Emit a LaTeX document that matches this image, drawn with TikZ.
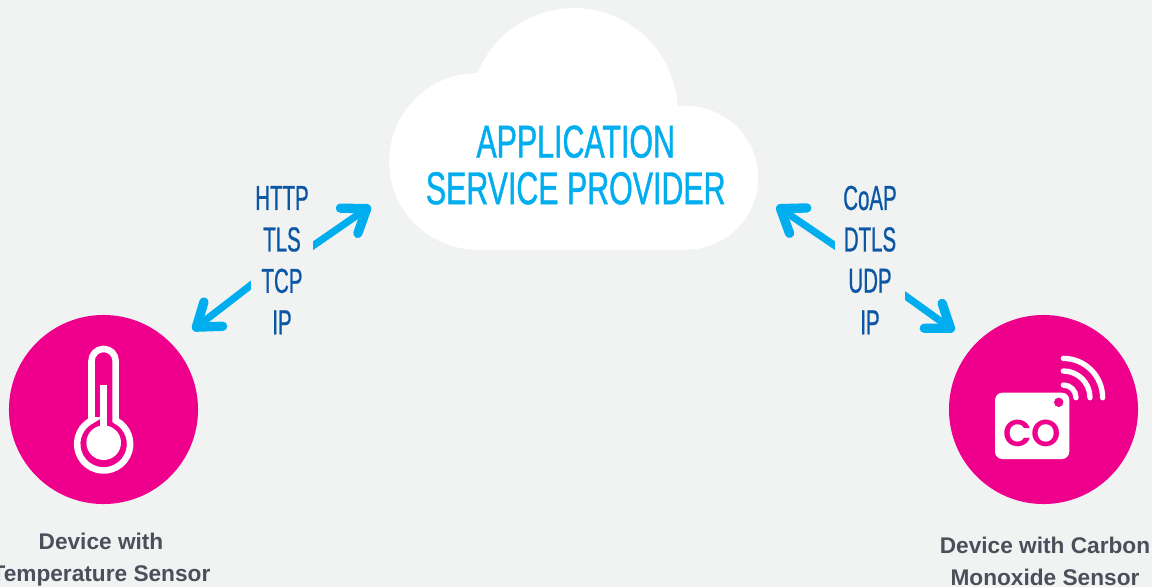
\documentclass[tikz,border=0pt]{standalone}
\usepackage{fontspec}
\setmainfont{Liberation Sans}
\newfontfamily\narrowfont[FakeStretch=0.59,FakeBold=0.7]{Liberation Sans}
\newfontfamily\cloudfont[FakeStretch=0.66,FakeBold=0.9]{Liberation Sans}
\newfontfamily\cofont[BoldFont={Poppins SemiBold}]{Poppins}
\usepackage{tikz}
\usetikzlibrary{arrows.meta,calc,positioning}
\definecolor{pagebg}{HTML}{F1F3F3}
\definecolor{devpink}{HTML}{EE008C}
\definecolor{linkblue}{HTML}{00AEEF}
\definecolor{stackblue}{HTML}{0B57A4}
\definecolor{devgray}{HTML}{4A4F5A}
\pgfdeclarelayer{behind}
\pgfsetlayers{behind,main}

\begin{document}
\begin{tikzpicture}[x=0.75pt,y=0.75pt,node distance=31.1pt,on grid]
\tikzset{device/.style={circle,fill=devpink,minimum size=141.8pt,inner sep=0pt}}
\tikzset{proto/.style={font=\narrowfont\fontsize{26}{26}\selectfont,text=stackblue,fill=pagebg,inner sep=0pt,minimum height=31.1pt}}
\tikzset{devlabel/.style={font=\bfseries\fontsize{17}{24}\selectfont,text=devgray,align=center}}
\tikzset{linkarrow/.style={draw=linkblue,line width=5.4pt,-{Straight Barb[length=16pt,width=23pt,line width=7pt,round]}}}
\tikzset{iconline/.style={draw=white,line width=4.9pt}}
\tikzset{waveline/.style={draw=white,line width=4pt,line cap=round}}
\useasboundingbox (0,0) rectangle (1152,587);
  % devices
  \node[device]          (thermo)   at (103.5,177.5) {};
  \node[device]          (cosensor) at (1043.5,177.5) {};
  \node[devlabel]        (thermolabel) at (101,27) {Device with\\Temperature Sensor};
  \node[devlabel]        (cosensorlabel) at (1045,26) {Device with Carbon\\Monoxide Sensor};

  % left stack
  \node[proto]                       (http)  at (282,389) {HTTP};
  \node[proto,minimum width=45.8pt]  (tls)   [below =of http]  {TLS};
  \node[proto,minimum width=45.8pt]  (tcp)   [below =of tls]   {TCP};
  \node[proto]                       (ipa)   [below =of tcp]   {IP};

  % right stack
  \node[proto]                       (coap)  at (870,389) {CoAP};
  \node[proto,minimum width=51.8pt]  (dtls)  [below =of coap]  {DTLS};
  \node[proto,minimum width=51.8pt]  (udp)   [below =of dtls]  {UDP};
  \node[proto]                       (ipb)   [below =of udp]   {IP};

  \node[align=center,text=linkblue,font=\cloudfont\fontsize{34.5}{35}\selectfont] (asp) at (575.7,422) {APPLICATION\\SERVICE PROVIDER};

  \coordinate (cloudleft)  at (370.5,381);
  \coordinate (cloudright) at (776.7,381);
  \coordinate (thermoin)   at (192.7,257);
  \coordinate (cosensorin) at (954.3,256);
  \coordinate (tlsout)  at ($(tls.east)+(-7.5,-11.6)$);
  \coordinate (tcpout)  at ($(tcp.west)+(8.5,2.6)$);
  \coordinate (dtlsout) at ($(dtls.west)+(8.5,-12.2)$);
  \coordinate (udpout)  at ($(udp.east)+(-7.5,-9.1)$);

\begin{pgfonlayer}{behind}
  \fill[pagebg] (0,0) rectangle (1152,587);
  \fill[white] (477.5,337.3) arc[start angle=-90,end angle=-270,radius=88.3]
     arc[start angle=158,end angle=3,radius=103.9]
     arc[start angle=97,end angle=-90,radius=71.8] -- cycle;
  \path (tlsout)  edge [linkarrow] (cloudleft)
        (tcpout)  edge [linkarrow] (thermoin)
        (dtlsout) edge [linkarrow] (cloudright)
        (udpout)  edge [linkarrow] (cosensorin);
\end{pgfonlayer}

  % thermometer
  \draw[iconline] (91.5,166.6) -- (91.5,226) arc[start angle=180,end angle=0,radius=12.1] -- (115.7,166.6)
     arc[start angle=62.9,end angle=-242.9,radius=26.5] -- cycle;
  \fill[white] (103.7,144.3) circle[radius=17.3];
  \fill[white] (100.4,150) rectangle (106.8,202);

  % co badge
  \fill[white,rounded corners=5.5pt] (995,128) rectangle (1069.3,194.3);
  \fill[devpink] (1058.7,184.7) circle[radius=4.7];
  \node[text=devpink,inner sep=0pt,font=\cofont\bfseries\fontsize{28}{28}\selectfont] (colabel) at (1032,154) {CO};
  \draw[waveline] (1063.3,189.3) ++(0,12.7) arc[start angle=90,end angle=0,radius=12.7];
  \draw[waveline] (1063.3,189.3) ++(0,26.7) arc[start angle=90,end angle=0,radius=26.7];
  \draw[waveline] (1063.3,189.3) ++(0,39.3) arc[start angle=90,end angle=0,radius=39.3];
\end{tikzpicture}
\end{document}
